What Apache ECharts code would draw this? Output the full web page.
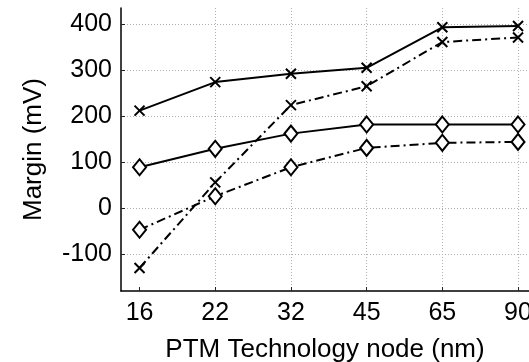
<!DOCTYPE html>
<html>
<head>
<meta charset="utf-8">
<script src="https://cdn.jsdelivr.net/npm/echarts@6/dist/echarts.min.js"></script>
<style>
  html, body { margin: 0; padding: 0; background: #fff; }
  #chart { width: 529px; height: 362px; }
</style>
</head>
<body>
<div id="chart"></div>
<script>
// technology nodes (nm)
var nodes = ['16', '22', '32', '45', '65', '90'];

// margins in mV
var solidCross = [212, 274, 292, 305, 393, 396];
var dashCross = [-130, 56, 224, 265, 361, 371];
var solidDiamond = [89, 129, 162, 182, 182, 182];
var dashDiamond = [-47, 26, 89, 131, 142, 144];

var yTicks = [-100, 0, 100, 200, 300, 400];

var crossPath = 'path://M0,0L10,10M10,0L0,10';
var dashDot = [9, 4, 2, 4];

function pairs(vals) {
    return vals.map(function (v, i) { return [i, v]; });
}

function makeSeries(name, vals, marker, dashed) {
    var isCross = marker === 'cross';
    return {
        name: name,
        type: 'line',
        data: pairs(vals),
        symbol: isCross ? crossPath : 'diamond',
        symbolSize: isCross ? 10 : [13, 16],
        showSymbol: true,
        z: isCross ? 3 : 4,
        lineStyle: {
            color: '#000',
            width: 2,
            type: dashed ? dashDot : 'solid'
        },
        itemStyle: {
            color: isCross ? 'none' : '#fff',
            borderColor: '#000',
            borderWidth: 2
        },
        emphasis: { disabled: true },
        animation: false
    };
}

var chart = echarts.init(document.getElementById('chart'));

var font = 'Liberation Sans, Arial, sans-serif';

chart.setOption({
    backgroundColor: '#fff',
    animation: false,
    grid: {
        left: 121,
        right: 0,
        top: 8,
        bottom: 71,
        containLabel: false,
        outerBoundsMode: 'none'
    },
    xAxis: {
        type: 'value',
        min: -0.245,
        max: 5.145,
        name: 'PTM Technology node (nm)',
        nameLocation: 'middle',
        nameGap: 46,
        nameTextStyle: { fontFamily: font, fontSize: 26, color: '#000' },
        axisLine: { onZero: false, lineStyle: { color: '#000', width: 1.5 } },
        axisTick: {
            show: true,
            inside: true,
            length: 4,
            customValues: [0, 1, 2, 3, 4, 5],
            lineStyle: { color: '#222', width: 1 }
        },
        axisLabel: {
            fontFamily: font,
            fontSize: 25,
            color: '#000',
            margin: 10,
            customValues: [0, 1, 2, 3, 4, 5],
            formatter: function (v) { return nodes[Math.round(v)] || ''; }
        },
        splitLine: {
            show: true,
            showMinLine: false,
            lineStyle: { color: '#b0b0b0', type: [1, 2], width: 1 }
        }
    },
    yAxis: {
        type: 'value',
        min: -180,
        max: 435,
        name: 'Margin (mV)',
        nameLocation: 'middle',
        nameGap: 74,
        nameTextStyle: { fontFamily: font, fontSize: 26, color: '#000' },
        axisLine: { show: true, onZero: false, lineStyle: { color: '#000', width: 1.5 } },
        axisTick: {
            show: true,
            inside: true,
            length: 4,
            customValues: yTicks,
            lineStyle: { color: '#222', width: 1 }
        },
        axisLabel: {
            fontFamily: font,
            fontSize: 25,
            color: '#000',
            margin: 9,
            customValues: yTicks
        },
        splitLine: {
            show: true,
            lineStyle: { color: '#b0b0b0', type: [1, 2], width: 1 }
        }
    },
    series: [
        makeSeries('solid cross', solidCross, 'cross', false),
        makeSeries('dash cross', dashCross, 'cross', true),
        makeSeries('solid diamond', solidDiamond, 'diamond', false),
        makeSeries('dash diamond', dashDiamond, 'diamond', true)
    ]
});
</script>
</body>
</html>
